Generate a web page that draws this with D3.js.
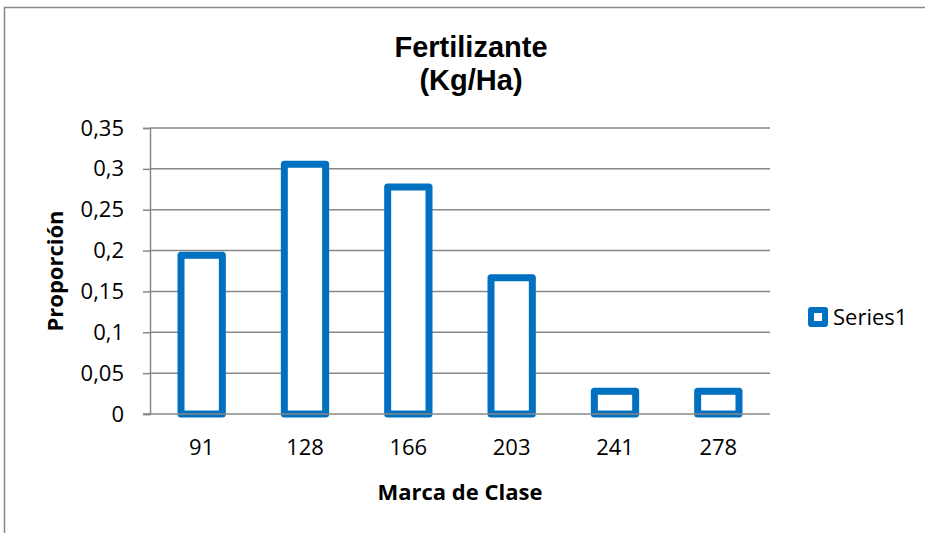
<!DOCTYPE html>
<html>
<head>
<meta charset="utf-8">
<script src="https://cdn.jsdelivr.net/npm/d3@7"></script>
<style>
  body { margin: 0; background: #fff; }
  svg { display: block; }
</style>
</head>
<body>
<div id="chart"></div>
<script>
// data
var categories = ['91', '128', '166', '203', '241', '278'];
var proportions = [0.1944, 0.3056, 0.2778, 0.1667, 0.0278, 0.0278];
var yTicks = [0, 0.05, 0.1, 0.15, 0.2, 0.25, 0.3, 0.35];
var titleLines = ['Fertilizante', '(Kg/Ha)'];
var seriesName = 'Series1';

var width = 925, height = 533,
    plot = { left: 150, right: 770, top: 128, bottom: 414 },
    blue = '#0070C0', grey = '#888888',
    font = "'Open Sans', 'Noto Sans', sans-serif";

var svg = d3.select('#chart').append('svg')
    .attr('width', width)
    .attr('height', height);

// chart area border (only top and left show in the picture)
svg.append('path')
    .attr('d', 'M 4.5 ' + height + ' L 4.5 7.5 L ' + width + ' 7.5')
    .attr('fill', 'none')
    .attr('stroke', grey)
    .attr('stroke-width', 1.5);

var x = d3.scaleBand()
    .domain(categories)
    .range([plot.left, plot.right])
    .paddingInner(0.6)
    .paddingOuter(0.3);

var y = d3.scaleLinear()
    .domain([0, 0.35])
    .range([plot.bottom, plot.top]);

function comma (v) { return String(v).replace('.', ','); }

// gridlines
svg.append('g').selectAll('line')
    .data(yTicks.slice(1))
    .enter().append('line')
    .attr('x1', plot.left).attr('x2', plot.right)
    .attr('y1', function (d) { return y(d); })
    .attr('y2', function (d) { return y(d); })
    .attr('stroke', grey)
    .attr('stroke-width', 1.5);

// bars
svg.append('g').selectAll('rect')
    .data(proportions)
    .enter().append('rect')
    .attr('x', function (d, i) { return x(categories[i]); })
    .attr('y', function (d) { return y(d); })
    .attr('width', x.bandwidth())
    .attr('height', function (d) { return y(0) - y(d); })
    .attr('fill', '#fff')
    .attr('stroke', blue)
    .attr('stroke-width', 7)
    .attr('stroke-linejoin', 'round');

// y axis
var yAxis = svg.append('g')
    .attr('transform', 'translate(' + plot.left + ',0)')
    .call(d3.axisLeft(y).tickValues(yTicks).tickFormat(comma).tickSize(7).tickPadding(19));
yAxis.select('.domain').attr('stroke', grey).attr('stroke-width', 1.5);
yAxis.selectAll('.tick line').attr('stroke', grey).attr('stroke-width', 1.5);
yAxis.selectAll('.tick text')
    .attr('fill', '#000')
    .style('font', '22px ' + font);

// x axis
var xAxis = svg.append('g')
    .attr('transform', 'translate(0,' + plot.bottom + ')')
    .call(d3.axisBottom(x).tickSize(0).tickPadding(25));
xAxis.select('.domain').remove();
xAxis.append('line')
    .attr('x1', plot.left - 7).attr('x2', plot.right)
    .attr('stroke', grey).attr('stroke-width', 1.5);
xAxis.selectAll('.tick text')
    .attr('fill', '#000')
    .style('font', '22px ' + font);

// title
svg.append('text')
    .attr('x', 471)
    .attr('text-anchor', 'middle')
    .style('font', "bold 29px 'Liberation Sans', Arial, sans-serif")
    .selectAll('tspan')
    .data(titleLines)
    .enter().append('tspan')
    .attr('x', 471)
    .attr('y', function (d, i) { return 57 + i * 33; })
    .text(function (d) { return d; });

// axis titles
svg.append('text')
    .attr('transform', 'translate(63,271) rotate(-90)')
    .attr('text-anchor', 'middle')
    .style('font', 'bold 22px ' + font)
    .text('Proporción');

svg.append('text')
    .attr('x', 460)
    .attr('y', 500)
    .attr('text-anchor', 'middle')
    .style('font', 'bold 22px ' + font)
    .text('Marca de Clase');

// legend
var legend = svg.append('g').attr('transform', 'translate(811,310)');
legend.append('rect')
    .attr('width', 14).attr('height', 14)
    .attr('fill', '#fff')
    .attr('stroke', blue)
    .attr('stroke-width', 6)
    .attr('stroke-linejoin', 'round');
legend.append('text')
    .attr('x', 22)
    .attr('y', 15)
    .style('font', '22px ' + font)
    .text(seriesName);
</script>
</body>
</html>
